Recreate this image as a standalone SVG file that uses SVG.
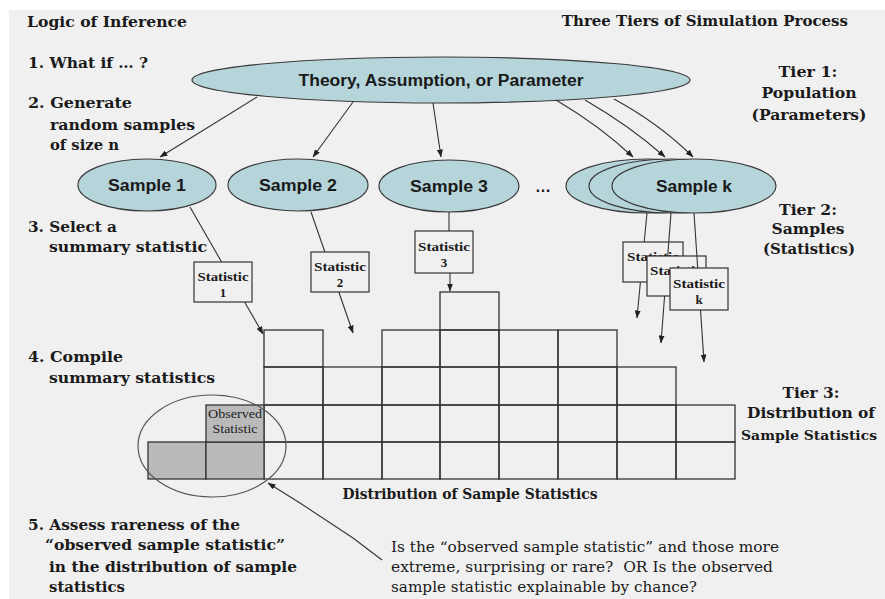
<svg xmlns="http://www.w3.org/2000/svg" width="885" height="599" viewBox="0 0 885 599">
<style>
.bg{fill:#f0f0f0}
.t{font-family:"DejaVu Serif","Liberation Serif",serif;font-weight:bold;font-size:15px;fill:#1a1a1a}
.q{font-family:"DejaVu Serif","Liberation Serif",serif;font-size:15px;fill:#1a1a1a;white-space:pre}
.ell{fill:#b5d5da;stroke:#3a3a3a;stroke-width:1.2}
.s{font-family:"Liberation Sans",Arial,sans-serif;font-weight:bold;font-size:16px;fill:#1a1a1a}
.box{fill:#f0f0f0;stroke:#333;stroke-width:1.2}
.st{font-family:"Liberation Serif","Times New Roman",serif;font-weight:bold;font-size:13px;fill:#1a1a1a}
.cell{fill:none;stroke:#333;stroke-width:1.3}
.shade{fill:#bababa;stroke:#333;stroke-width:1.3}
.ln{fill:none;stroke:#333;stroke-width:1.1}
.ar{fill:none;stroke:#333;stroke-width:1.1;marker-end:url(#ah)}
</style>
<defs>
<marker id="ah" markerWidth="8" markerHeight="6" refX="7.5" refY="3" orient="auto" markerUnits="userSpaceOnUse">
<path d="M0,0 L8,3 L0,6 z" fill="#222"/>
</marker>
</defs>
<rect x="0" y="0" width="885" height="599" fill="#ffffff"/>
<rect class="bg" x="9" y="10" width="876" height="589"/>

<g id="labels-left">
<text class="t" x="27" y="27" textLength="160" lengthAdjust="spacingAndGlyphs">Logic of Inference</text>
<text class="t" x="28" y="68" textLength="120" lengthAdjust="spacingAndGlyphs">1. What if … ?</text>
<text class="t" x="28" y="108" textLength="104" lengthAdjust="spacingAndGlyphs">2. Generate</text>
<text class="t" x="50" y="130" textLength="145" lengthAdjust="spacingAndGlyphs">random samples</text>
<text class="t" x="50" y="150" textLength="69" lengthAdjust="spacingAndGlyphs">of size n</text>
<text class="t" x="28" y="232" textLength="89" lengthAdjust="spacingAndGlyphs">3. Select a</text>
<text class="t" x="49" y="252" textLength="158" lengthAdjust="spacingAndGlyphs">summary statistic</text>
<text class="t" x="28" y="362" textLength="95" lengthAdjust="spacingAndGlyphs">4. Compile</text>
<text class="t" x="49" y="383" textLength="166" lengthAdjust="spacingAndGlyphs">summary statistics</text>
<text class="t" x="28" y="530" textLength="212" lengthAdjust="spacingAndGlyphs">5. Assess rareness of the</text>
<text class="t" x="45" y="550" textLength="240" lengthAdjust="spacingAndGlyphs">“observed sample statistic”</text>
<text class="t" x="49" y="572" textLength="248" lengthAdjust="spacingAndGlyphs">in the distribution of sample</text>
<text class="t" x="49" y="592" textLength="76" lengthAdjust="spacingAndGlyphs">statistics</text>
</g>

<g id="labels-right" text-anchor="middle">
<text class="t" x="848" y="26" text-anchor="end">Three Tiers of Simulation Process</text>
<text class="t" x="808" y="77" textLength="59" lengthAdjust="spacingAndGlyphs">Tier 1:</text>
<text class="t" x="809" y="98" textLength="95" lengthAdjust="spacingAndGlyphs">Population</text>
<text class="t" x="809" y="120" textLength="115" lengthAdjust="spacingAndGlyphs">(Parameters)</text>
<text class="t" x="808" y="215" textLength="58" lengthAdjust="spacingAndGlyphs">Tier 2:</text>
<text class="t" x="808" y="234" textLength="73" lengthAdjust="spacingAndGlyphs">Samples</text>
<text class="t" x="809" y="254" textLength="92" lengthAdjust="spacingAndGlyphs">(Statistics)</text>
<text class="t" x="811" y="398" textLength="57" lengthAdjust="spacingAndGlyphs">Tier 3:</text>
<text class="t" x="811" y="418" textLength="128" lengthAdjust="spacingAndGlyphs">Distribution of</text>
<text class="t" x="809" y="440" style="font-size:13.5px" textLength="136" lengthAdjust="spacingAndGlyphs">Sample Statistics</text>
</g>

<g id="theory">
<ellipse class="ell" cx="441" cy="80" rx="249" ry="23"/>
<text class="s" x="441" y="86" text-anchor="middle" textLength="285" lengthAdjust="spacingAndGlyphs">Theory, Assumption, or Parameter</text>
</g>
<g id="sample1">
<ellipse class="ell" cx="147" cy="185" rx="69" ry="26"/>
<text class="s" x="147" y="191" text-anchor="middle" textLength="78" lengthAdjust="spacingAndGlyphs">Sample 1</text>
</g>
<g id="sample2">
<ellipse class="ell" cx="298" cy="185" rx="70" ry="26"/>
<text class="s" x="298" y="191" text-anchor="middle" textLength="78" lengthAdjust="spacingAndGlyphs">Sample 2</text>
</g>
<g id="sample3">
<ellipse class="ell" cx="449" cy="186" rx="70" ry="26"/>
<text class="s" x="449" y="192" text-anchor="middle" textLength="78" lengthAdjust="spacingAndGlyphs">Sample 3</text>
</g>
<text class="s" x="543" y="192" text-anchor="middle">…</text>
<g id="samplek">
<ellipse class="ell" cx="648" cy="186" rx="82" ry="27"/>
<ellipse class="ell" cx="671" cy="186" rx="82" ry="27"/>
<ellipse class="ell" cx="694" cy="186" rx="82" ry="27"/>
<text class="s" x="694" y="192" text-anchor="middle" textLength="76" lengthAdjust="spacingAndGlyphs">Sample k</text>
</g>

<g id="histogram">
<rect class="cell" x="264" y="330" width="59" height="37"/>
<rect class="cell" x="264" y="367" width="59" height="38"/>
<rect class="cell" x="264" y="405" width="59" height="37"/>
<rect class="cell" x="264" y="442" width="59" height="37"/>
<rect class="cell" x="323" y="367" width="59" height="38"/>
<rect class="cell" x="323" y="405" width="59" height="37"/>
<rect class="cell" x="323" y="442" width="59" height="37"/>
<rect class="cell" x="382" y="330" width="58" height="37"/>
<rect class="cell" x="382" y="367" width="58" height="38"/>
<rect class="cell" x="382" y="405" width="58" height="37"/>
<rect class="cell" x="382" y="442" width="58" height="37"/>
<rect class="cell" x="440" y="292" width="59" height="38"/>
<rect class="cell" x="440" y="330" width="59" height="37"/>
<rect class="cell" x="440" y="367" width="59" height="38"/>
<rect class="cell" x="440" y="405" width="59" height="37"/>
<rect class="cell" x="440" y="442" width="59" height="37"/>
<rect class="cell" x="499" y="330" width="59" height="37"/>
<rect class="cell" x="499" y="367" width="59" height="38"/>
<rect class="cell" x="499" y="405" width="59" height="37"/>
<rect class="cell" x="499" y="442" width="59" height="37"/>
<rect class="cell" x="558" y="330" width="59" height="37"/>
<rect class="cell" x="558" y="367" width="59" height="38"/>
<rect class="cell" x="558" y="405" width="59" height="37"/>
<rect class="cell" x="558" y="442" width="59" height="37"/>
<rect class="cell" x="617" y="367" width="59" height="38"/>
<rect class="cell" x="617" y="405" width="59" height="37"/>
<rect class="cell" x="617" y="442" width="59" height="37"/>
<rect class="cell" x="676" y="405" width="59" height="37"/>
<rect class="cell" x="676" y="442" width="59" height="37"/>
<rect class="shade" x="148" y="442" width="58" height="37"/>
<rect class="shade" x="206" y="442" width="58" height="37"/>
<rect class="shade" x="206" y="405" width="58" height="37"/>
<text x="235" y="418" text-anchor="middle" font-family="Liberation Serif, serif" font-size="13" fill="#222" textLength="54" lengthAdjust="spacingAndGlyphs">Observed</text>
<text x="235" y="433" text-anchor="middle" font-family="Liberation Serif, serif" font-size="13" fill="#222" textLength="45" lengthAdjust="spacingAndGlyphs">Statistic</text>
<text class="t" x="470" y="499" text-anchor="middle" textLength="255" lengthAdjust="spacingAndGlyphs">Distribution of Sample Statistics</text>
</g>

<g id="observed-circle">
<ellipse cx="212" cy="446" rx="74" ry="51" fill="none" stroke="#555" stroke-width="1.2"/>
</g>

<g id="stat1">
<rect class="box" x="194" y="262" width="58" height="40"/>
<text class="st" x="223" y="281" text-anchor="middle" textLength="51" lengthAdjust="spacingAndGlyphs">Statistic</text>
<text class="st" x="223" y="297" text-anchor="middle">1</text>
</g>
<g id="stat2">
<rect class="box" x="311" y="252" width="58" height="40"/>
<text class="st" x="340" y="271" text-anchor="middle" textLength="52" lengthAdjust="spacingAndGlyphs">Statistic</text>
<text class="st" x="340" y="287" text-anchor="middle">2</text>
</g>
<g id="stat3">
<rect class="box" x="415" y="231" width="58" height="42"/>
<text class="st" x="444" y="251" text-anchor="middle" textLength="52" lengthAdjust="spacingAndGlyphs">Statistic</text>
<text class="st" x="444" y="267" text-anchor="middle">3</text>
</g>
<g id="statA">
<rect class="box" x="623" y="242" width="60" height="40"/>
<text class="st" x="653" y="261" text-anchor="middle" textLength="52" lengthAdjust="spacingAndGlyphs">Statistic</text>
</g>
<g id="statB">
<rect class="box" x="647" y="256" width="59" height="40"/>
<text class="st" x="676" y="275" text-anchor="middle" textLength="52" lengthAdjust="spacingAndGlyphs">Statistic</text>
</g>
<g id="statk">
<rect class="box" x="670" y="268" width="58" height="42"/>
<text class="st" x="699" y="288" text-anchor="middle" textLength="52" lengthAdjust="spacingAndGlyphs">Statistic</text>
<text class="st" x="699" y="304" text-anchor="middle">k</text>
</g>

<text class="q" x="391" y="552" textLength="388" lengthAdjust="spacingAndGlyphs">Is the “observed sample statistic” and those more</text>
<text class="q" x="391" y="572" textLength="382" lengthAdjust="spacingAndGlyphs" xml:space="preserve">extreme, surprising or rare?  OR Is the observed</text>
<text class="q" x="391" y="592" textLength="306" lengthAdjust="spacingAndGlyphs">sample statistic explainable by chance?</text>

<g id="connectors">
<path class="ar" d="M257,97 L160,157"/>
<path class="ar" d="M353,102 L313,157"/>
<path class="ar" d="M433,103 L441,157"/>
<path class="ar" d="M556,100 Q600,126 633,157"/>
<path class="ar" d="M585,100 Q630,126 665,157"/>
<path class="ar" d="M614,99 Q660,124 693,157"/>
<path class="ln" d="M190,207 L221.6,262"/>
<path class="ar" d="M244.6,302 L263,334"/>
<path class="ln" d="M311,212 L324.9,252"/>
<path class="ar" d="M338.8,292 L353,333"/>
<path class="ln" d="M449,212 L449,231"/>
<path class="ar" d="M450,273 L450,291"/>
<path class="ln" d="M647,213 L644.2,242"/>
<path class="ar" d="M640.4,282 L637,318"/>
<path class="ln" d="M671,213 L667.7,256"/>
<path class="ar" d="M664.6,296 L661,343"/>
<path class="ln" d="M694,213 L697.7,268"/>
<path class="ar" d="M700.5,310 L704,362"/>
<path class="ar" d="M382,560 L353,538 L300,503 L268,483"/>
</g>
</svg>
